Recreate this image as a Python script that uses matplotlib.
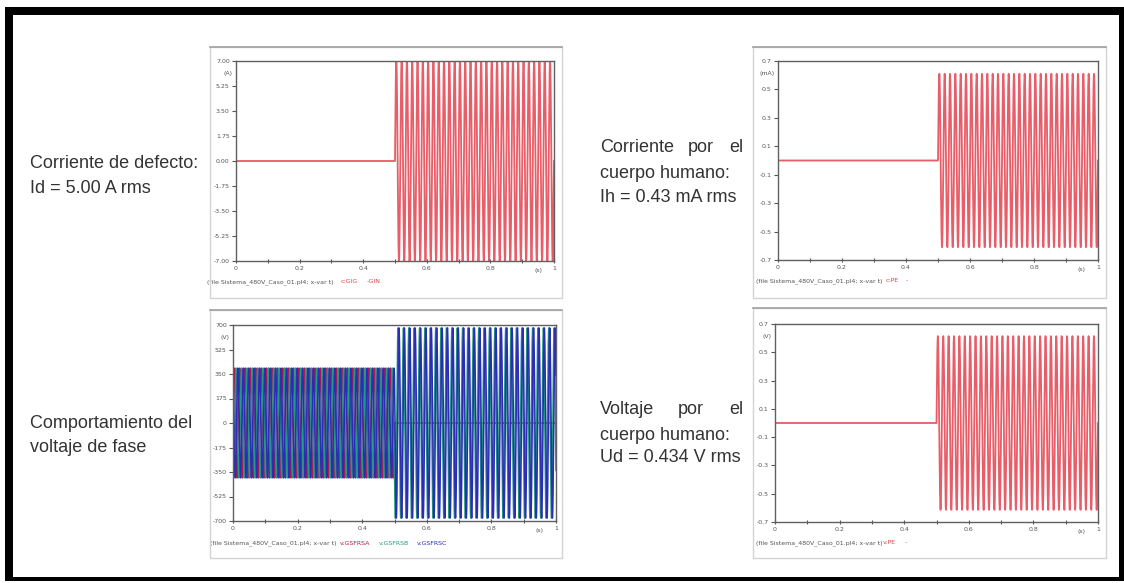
import numpy as np
import matplotlib
matplotlib.use('Agg')
import matplotlib.pyplot as plt
from matplotlib.patches import Rectangle

W, H = 1124, 583

# simulation settings
t_end = 1.0
t_fault = 0.5
freq = 60.0

# fault current (A peak): 5.00 A rms
id_peak = 7.07
# phase voltages (V peak) before / after the fault, phases A, B, C
v_pre = [392, 392, 392]
v_post = [0, 679, 679]
v_phase_deg = [0, -120, 120]
v_post_phase_deg = [0, -150, 150]
# body current (mA peak) and touch voltage (V peak)
ih_peak = 0.61
ud_peak = 0.614

# axis ticks
ticks_id = [7.00, 5.25, 3.50, 1.75, 0.00, -1.75, -3.50, -5.25, -7.00]
labels_id = ['7.00', '5.25', '3.50', '1.75', '0.00', '-1.75', '-3.50', '-5.25', '-7.00']
ticks_v = [700, 525, 350, 175, 0, -175, -350, -525, -700]
labels_v = ['700', '525', '350', '175', '0', '-175', '-350', '-525', '-700']
ticks_small = [0.7, 0.5, 0.3, 0.1, -0.1, -0.3, -0.5, -0.7]
labels_small = ['0.7', '0.5', '0.3', '0.1', '-0.1', '-0.3', '-0.5', '-0.7']
xticks = [0, 0.2, 0.4, 0.6, 0.8, 1]
xlabels = ['0', '0.2', '0.4', '0.6', '0.8', '1']

file_txt = '(file Sistema_480V_Caso_01.pl4; x-var t)'

t = np.linspace(0, t_end, 40001)
on = t >= t_fault
w = 2 * np.pi * freq

fig = plt.figure(figsize=(W / 100, H / 100), dpi=100)
fig.patch.set_facecolor('white')


def px_axes(l, r, top, bot):
    return fig.add_axes([l / W, 1 - bot / H, (r - l) / W, (bot - top) / H])


def panel(l, r, top, bot):
    fig.add_artist(Rectangle((l / W, 1 - bot / H), (r - l) / W, (bot - top) / H,
                             transform=fig.transFigure, fill=False,
                             edgecolor='#d4d4d4', lw=1))
    fig.add_artist(plt.Line2D([l / W, r / W], [1 - top / H, 1 - top / H],
                              transform=fig.transFigure, color='#a0a0a0', lw=1.2))


def style(ax, yt, yl, unit, unit_y, ylim):
    ax.set_xlim(0, 1)
    ax.set_ylim(ylim)
    ax.set_yticks(yt)
    ax.set_yticklabels(yl)
    ax.set_xticks(xticks)
    ax.set_xticklabels(xlabels)
    ax.set_xticks([0.1, 0.3, 0.5, 0.7, 0.9], minor=True)
    ax.tick_params(axis='both', labelsize=4.5, colors='#555555', length=3, width=0.8)
    ax.tick_params(axis='x', direction='inout', pad=2)
    ax.tick_params(axis='x', which='minor', direction='inout', length=3, width=0.8, color='#555555')
    ax.tick_params(axis='y', direction='out', pad=1.5)
    for s in ax.spines.values():
        s.set_color('#606060')
        s.set_linewidth(1)
    ax.text(-0.012, unit_y, unit, transform=ax.get_yaxis_transform(),
            ha='right', va='center', fontsize=4.5, color='#555555')
    ax.text(0.95, -0.035, '(s)', transform=ax.transAxes, ha='center', va='top',
            fontsize=4.5, color='#555555')


# panels
panel(210, 562, 47, 298)
panel(210, 562, 310, 558)
panel(753, 1106, 47, 298)
panel(753, 1106, 308, 558)

red = '#e4404c'

# fault current
ax1 = px_axes(236, 554, 61, 261)
i_d = np.where(on, id_peak * np.sin(w * (t - t_fault)), 0.0)
ax1.plot(t, i_d, color=red, lw=1.3, alpha=0.85)
style(ax1, ticks_id, labels_id, '(A)', 6.15, (-7.0, 7.0))
ax1.text(-0.09, -0.09, file_txt, transform=ax1.transAxes, fontsize=4.5, color='#555555', va='top')
ax1.text(0.33, -0.09, 'c:GIG', transform=ax1.transAxes, fontsize=4.5, color=red, va='top')
ax1.text(0.41, -0.09, '-GIN', transform=ax1.transAxes, fontsize=4.5, color=red, va='top')

# phase voltages
ax2 = px_axes(233, 556, 325, 521)
v_cols = ['#b3164e', '#1f9c7c', '#2c2db4']
for k in range(3):
    pre = v_pre[k] * np.sin(w * t + np.radians(v_phase_deg[k]))
    post = v_post[k] * np.sin(w * t + np.radians(v_post_phase_deg[k]))
    ax2.plot(t, np.where(on, post, pre), color=v_cols[k], lw=1.1)
style(ax2, ticks_v, labels_v, '(V)', 612, (-700, 700))
ax2.text(-0.07, -0.1, file_txt, transform=ax2.transAxes, fontsize=4.5, color='#555555', va='top')
leg_names = ['v:GSFRSA', 'v:GSFRSB', 'v:GSFRSC']
for k in range(3):
    ax2.text(0.33 + 0.12 * k, -0.1, leg_names[k], transform=ax2.transAxes,
             fontsize=4.5, color=v_cols[k], va='top')

# body current
ax3 = px_axes(778, 1098, 61, 260)
i_h = np.where(on, ih_peak * np.sin(w * (t - t_fault)), 0.0)
ax3.plot(t, i_h, color=red, lw=1.3, alpha=0.85)
style(ax3, ticks_small, labels_small, '(mA)', 0.61, (-0.7, 0.7))
ax3.text(-0.07, -0.09, file_txt, transform=ax3.transAxes, fontsize=4.5, color='#555555', va='top')
ax3.text(0.335, -0.09, 'c:PE', transform=ax3.transAxes, fontsize=4.5, color=red, va='top')
ax3.text(0.40, -0.09, '-', transform=ax3.transAxes, fontsize=4.5, color=red, va='top')

# touch voltage
ax4 = px_axes(775, 1098, 324, 522)
u_d = np.where(on, ud_peak * np.sin(w * (t - t_fault)), 0.0)
ax4.plot(t, u_d, color=red, lw=1.3, alpha=0.85)
style(ax4, ticks_small, labels_small, '(V)', 0.61, (-0.7, 0.7))
ax4.text(-0.06, -0.09, file_txt, transform=ax4.transAxes, fontsize=4.5, color='#555555', va='top')
ax4.text(0.335, -0.09, 'v:PE', transform=ax4.transAxes, fontsize=4.5, color=red, va='top')
ax4.text(0.40, -0.09, '-', transform=ax4.transAxes, fontsize=4.5, color=red, va='top')


# descriptive texts
def ftext(x, y, s, ha='left'):
    fig.text(x / W, 1 - y / H, s, ha=ha, va='center', fontsize=13,
             family=['Liberation Sans', 'DejaVu Sans'], color='#333333')


ftext(30, 164, 'Corriente de defecto:')
ftext(30, 188, 'Id = 5.00 A rms')
ftext(30, 423, 'Comportamiento del')
ftext(30, 447, 'voltaje de fase')

ftext(600, 148, 'Corriente')
ftext(701, 148, 'por', ha='center')
ftext(743, 148, 'el', ha='right')
ftext(600, 173, 'cuerpo humano:')
ftext(600, 197, 'Ih = 0.43 mA rms')

ftext(600, 410, 'Voltaje')
ftext(691, 410, 'por', ha='center')
ftext(743, 410, 'el', ha='right')
ftext(600, 435, 'cuerpo humano:')
ftext(600, 458, 'Ud = 0.434 V rms')

# black frame round the picture
for (x0, y0, x1, y1) in [(5, 7, 1124, 15), (5, 7, 13, 581), (1119, 7, 1124, 581), (5, 577, 1124, 581)]:
    fig.add_artist(Rectangle((x0 / W, 1 - y1 / H), (x1 - x0) / W, (y1 - y0) / H,
                             transform=fig.transFigure, color='black', lw=0))

fig.savefig('out.png', dpi=100)
